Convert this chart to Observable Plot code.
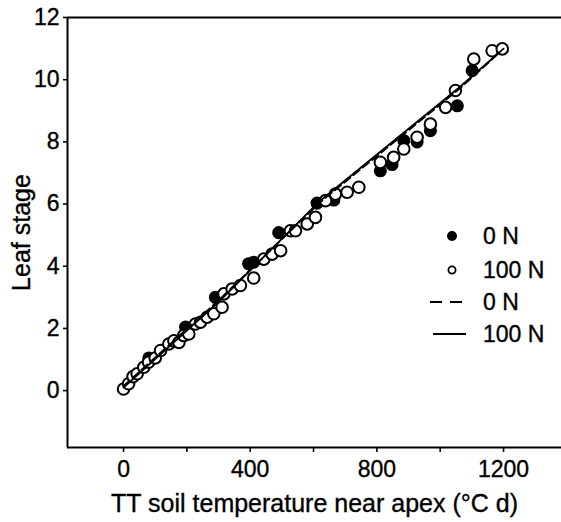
<!DOCTYPE html>
<html>
<head>
<meta charset="utf-8">
<script src="https://cdn.jsdelivr.net/npm/d3@7"></script>
<script src="https://cdn.jsdelivr.net/npm/@observablehq/plot@0.6"></script>
<style>
  body { margin: 0; background: #fff; }
  #wrap { position: relative; width: 561px; height: 522px; font-family: "Liberation Sans", Arial, sans-serif; }
  #chart svg text { stroke: #000; stroke-width: 0.35px; }
  #legend { position: absolute; left: 420px; top: 220px; font-size: 23px; color: #000; -webkit-text-stroke: 0.35px #000; }
  .item { position: absolute; left: 0; height: 32px; width: 140px; }
  .item svg { position: absolute; left: 8px; top: 0; }
  .item span { position: absolute; left: 63px; top: 3px; line-height: 26px; }
</style>
</head>
<body>
<div id="wrap">
  <div id="chart"></div>
  <div id="legend"></div>
</div>
<script>
// 0 N (filled circles)
const tt0 = [80, 196, 290, 395, 411, 490, 611, 664, 811, 848, 885, 927, 969, 1054, 1101];
const leaf0 = [1.05, 2.04, 3.0, 4.08, 4.13, 5.08, 6.03, 6.13, 7.07, 7.27, 8.04, 8.0, 8.36, 9.16, 10.29];
// 100 N (open circles)
const tt100 = [0, 16, 30, 43, 64, 79, 100, 117, 143, 159, 175, 190, 206, 227, 243, 264, 285, 311, 317, 343, 369, 411, 443, 469, 496, 527, 543, 580, 606, 638, 669, 706, 743, 811, 853, 885, 927, 969, 1017, 1048, 1106, 1164, 1196];
const leaf100 = [0.05, 0.22, 0.45, 0.54, 0.75, 0.91, 1.05, 1.29, 1.5, 1.6, 1.55, 1.77, 1.82, 2.14, 2.2, 2.36, 2.47, 2.68, 3.11, 3.27, 3.38, 3.62, 4.23, 4.39, 4.5, 5.14, 5.14, 5.36, 5.57, 6.11, 6.32, 6.38, 6.54, 7.34, 7.5, 7.77, 8.15, 8.57, 9.11, 9.65, 10.66, 10.93, 10.99];
// fitted lines
const fitTT0 = [0, 300, 620, 1060, 1185];
const fitLeaf0 = [0.15, 2.9, 6.05, 9.7, 10.85];
const fitTT100 = [0, 300, 620, 1060, 1200];
const fitLeaf100 = [0.1, 2.85, 6.1, 9.75, 11.0];
// axes
const xDomain = [-177, 1383];
const yDomain = [-1.83, 12];
const xTicks = [0, 200, 400, 600, 800, 1000, 1200];
const xLabelled = [0, 400, 800, 1200];
const yTicks = [0, 2, 4, 6, 8, 10, 12];
const xTitle = "TT soil temperature near apex (\u00B0C d)";
const yTitle = "Leaf stage";
const legendLabels = ["0 N", "100 N", "0 N", "100 N"];

const pts0 = tt0.map((x, i) => ({x, y: leaf0[i]}));
const pts100 = tt100.map((x, i) => ({x, y: leaf100[i]}));
const line0 = fitTT0.map((x, i) => ({x, y: fitLeaf0[i]}));
const line100 = fitTT100.map((x, i) => ({x, y: fitLeaf100[i]}));

const chart = Plot.plot({
  width: 561,
  height: 522,
  marginLeft: 67,
  marginRight: 0,
  marginTop: 17,
  marginBottom: 75,
  style: {fontFamily: "Liberation Sans, Arial, sans-serif", fontSize: "23px", color: "#000", background: "#fff"},
  x: {domain: xDomain},
  y: {domain: yDomain},
  marks: [
    Plot.axisX({ticks: xTicks, tickSize: 5, tickPadding: 8, tickFormat: d => xLabelled.includes(d) ? String(d) : "", label: null, fontSize: 23, strokeWidth: 1.6}),
    Plot.axisY({ticks: yTicks, tickSize: 4, tickPadding: 4, label: null, fontSize: 23, strokeWidth: 1.6}),
    Plot.ruleX([xDomain[0]], {stroke: "#000", strokeWidth: 2}),
    Plot.ruleY([yDomain[1]], {stroke: "#000", strokeWidth: 2}),
    Plot.ruleY([yDomain[0]], {stroke: "#000", strokeWidth: 2}),
    Plot.dot(pts0, {x: "x", y: "y", r: 5.8, fill: "#000", stroke: "#000", strokeWidth: 1.5}),
    Plot.dot(pts100, {x: "x", y: "y", r: 5.8, fill: "#fff", stroke: "#000", strokeWidth: 2}),
    Plot.line(line0, {x: "x", y: "y", stroke: "#000", strokeWidth: 1.8, strokeDasharray: "8,4"}),
    Plot.line(line100, {x: "x", y: "y", stroke: "#000", strokeWidth: 1.8}),
    Plot.text([yTitle], {frameAnchor: "left", rotate: -90, dx: -46, textAnchor: "middle", lineAnchor: "middle", fontSize: 25, fill: "#000"}),
    Plot.text([xTitle], {frameAnchor: "bottom", dy: 56, textAnchor: "middle", lineAnchor: "middle", fontSize: 25, fill: "#000"})
  ]
});
document.getElementById("chart").appendChild(chart);

// legend
const legend = document.getElementById("legend");
const symbols = [
  '<svg width="48" height="32"><circle cx="24" cy="16" r="5" fill="#000"/></svg>',
  '<svg width="48" height="32"><circle cx="24" cy="16" r="3.6" fill="#fff" stroke="#000" stroke-width="1.8"/></svg>',
  '<svg width="48" height="32"><line x1="2" x2="40" y1="16" y2="16" stroke="#000" stroke-width="1.8" stroke-dasharray="12,8"/></svg>',
  '<svg width="48" height="32"><line x1="5" x2="38" y1="16" y2="16" stroke="#000" stroke-width="1.8"/></svg>'
];
const tops = [0, 34, 66, 98];
legendLabels.forEach((lab, i) => {
  const d = document.createElement("div");
  d.className = "item";
  d.style.top = tops[i] + "px";
  d.innerHTML = symbols[i] + "<span>" + lab + "</span>";
  legend.appendChild(d);
});
</script>
</body>
</html>
